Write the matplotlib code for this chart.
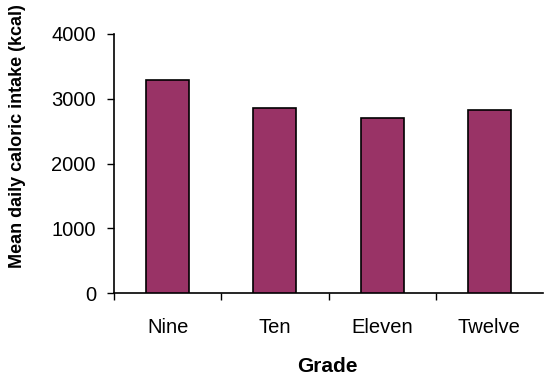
import matplotlib.pyplot as plt
import numpy as np

# mean daily caloric intake by grade
grades = ['Nine', 'Ten', 'Eleven', 'Twelve']
intake = [3290, 2860, 2700, 2830]
y_ticks = [0, 1000, 2000, 3000, 4000]

plt.rcParams['font.family'] = ['Liberation Sans', 'DejaVu Sans']

fig = plt.figure(figsize=(5.44, 3.79), dpi=100)
ax = fig.add_axes([0.2096, 0.2269, 0.7886, 0.6834])

x = np.arange(len(grades))
ax.bar(x, intake, width=0.4, color='#993366', edgecolor='black', linewidth=1.2, zorder=3)

ax.set_xlim(-0.5, len(grades) - 0.5)
ax.set_ylim(0, 4000)
ax.set_yticks(y_ticks)
ax.tick_params(axis='y', length=5, width=1, pad=8, labelsize=14.5, colors='black')

# ticks on the category boundaries, labels in between
ax.set_xticks(x - 0.5)
ax.set_xticklabels([''] * len(grades))
ax.set_xticks(x, minor=True)
ax.set_xticklabels(grades, minor=True)
ax.tick_params(axis='x', which='major', length=5, width=1)
ax.tick_params(axis='x', which='minor', length=0, pad=18, labelsize=14.5)

for s in ['top', 'right']:
    ax.spines[s].set_visible(False)
for s in ['left', 'bottom']:
    ax.spines[s].set_linewidth(1.2)

fig.text(0.033, 0.64, 'Mean daily caloric intake (kcal)', rotation=90,
         ha='center', va='center', fontsize=13, fontweight='bold')
fig.text(0.601, 0.032, 'Grade', ha='center', va='center', fontsize=15, fontweight='bold')

fig.savefig('out.png', dpi=100)
